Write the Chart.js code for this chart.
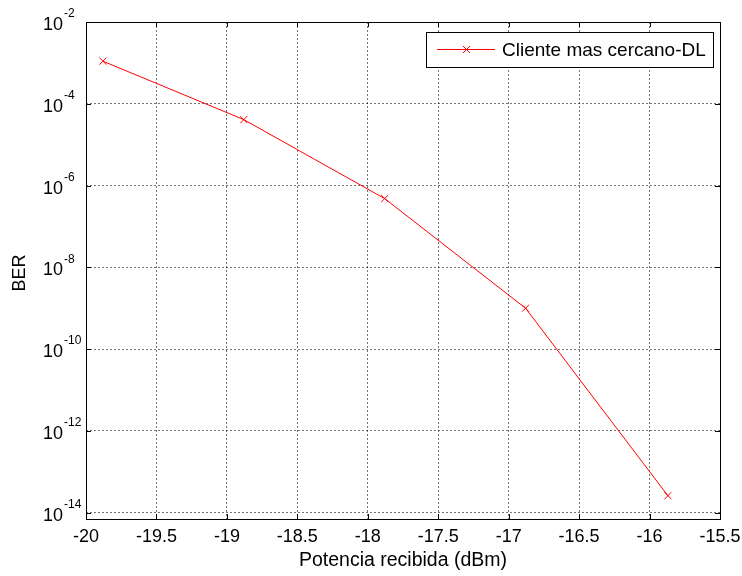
<!DOCTYPE html>
<html>
<head>
<meta charset="utf-8">
<script src="https://cdn.jsdelivr.net/npm/chart.js@4"></script>
<style>
  html, body { margin: 0; padding: 0; background: #fff; }
  canvas { display: block; }
</style>
</head>
<body>
<canvas id="berChart" width="742" height="576"></canvas>
<script>
// received power (dBm) and measured BER
const potencia = [-19.88, -18.88, -17.88, -16.88, -15.87];
const ber = [1.1e-3, 4.1e-5, 4.8e-7, 1.0e-9, 2.6e-14];
const xTicks = [-20, -19.5, -19, -18.5, -18, -17.5, -17, -16.5, -16, -15.5];
const yExponents = [-14, -12, -10, -8, -6, -4, -2];
const serieLabel = "Cliente mas cercano-DL";

const FONT = "Liberation Sans, Arial, sans-serif";
const RED = "#ff0000";

// ===== axes box, inward ticks, labels, legend =====
const matlabAxes = {
  id: "matlabAxes",
  afterDraw(chart) {
    const ctx = chart.ctx;
    const { left, right, top, bottom } = chart.chartArea;
    const xs = chart.scales.x, ys = chart.scales.y;
    ctx.save();
    ctx.setLineDash([]);
    ctx.lineWidth = 1;

    // box
    ctx.strokeStyle = "#000";
    ctx.strokeRect(Math.round(left) + 0.5, Math.round(top) + 0.5,
      Math.round(right - left), Math.round(bottom - top));

    // inward ticks on all four sides
    ctx.beginPath();
    xTicks.forEach(v => {
      const px = Math.round(xs.getPixelForValue(v)) + 0.5;
      ctx.moveTo(px, bottom); ctx.lineTo(px, bottom - 5);
      ctx.moveTo(px, top); ctx.lineTo(px, top + 5);
    });
    yExponents.forEach(e => {
      const py = Math.round(ys.getPixelForValue(Math.pow(10, e))) + 0.5;
      ctx.moveTo(left, py); ctx.lineTo(left + 5, py);
      ctx.moveTo(right, py); ctx.lineTo(right - 5, py);
    });
    ctx.stroke();

    // y tick labels 10^n
    ctx.fillStyle = "#000";
    ctx.textBaseline = "middle";
    yExponents.forEach(e => {
      const py = ys.getPixelForValue(Math.pow(10, e));
      ctx.font = "18px " + FONT;
      ctx.textAlign = "right";
      ctx.fillText("10", 63, py + 3);
      ctx.font = "12px " + FONT;
      ctx.textAlign = "left";
      ctx.fillText(String(e), 64, py - 8);
    });

    // axis titles
    ctx.textAlign = "center";
    ctx.textBaseline = "alphabetic";
    ctx.font = "19.5px " + FONT;
    ctx.fillText("Potencia recibida (dBm)", (left + right) / 2, 566);

    ctx.save();
    ctx.translate(20, 273);
    ctx.rotate(-Math.PI / 2);
    ctx.textBaseline = "middle";
    ctx.font = "18px " + FONT;
    ctx.fillText("BER", 0, 0);
    ctx.restore();

    // legend box
    const lx = 426, ly = 32, lw = 287, lh = 35;
    const my = 49;
    ctx.fillStyle = "#fff";
    ctx.fillRect(lx, ly, lw, lh);
    ctx.strokeStyle = "#000";
    ctx.strokeRect(lx + 0.5, ly + 0.5, lw, lh);

    // legend sample: line and x marker in the series colour
    const ds = chart.data.datasets[0];
    ctx.fillStyle = ds.borderColor;
    ctx.fillRect(437, my, 58, 1);
    ctx.strokeStyle = ds.borderColor;
    ctx.beginPath();
    ctx.moveTo(463, my - 3); ctx.lineTo(470, my + 4);
    ctx.moveTo(463, my + 4); ctx.lineTo(470, my - 3);
    ctx.stroke();

    ctx.fillStyle = "#000";
    ctx.font = "19px " + FONT;
    ctx.textAlign = "left";
    ctx.textBaseline = "middle";
    ctx.fillText(ds.label, 502, my + 2);

    ctx.restore();
  }
};

new Chart(document.getElementById("berChart"), {
  type: "line",
  data: {
    datasets: [{
      label: serieLabel,
      data: potencia.map((p, i) => ({ x: p, y: ber[i] })),
      borderColor: RED,
      borderWidth: 1,
      pointStyle: "crossRot",
      pointRadius: 5,
      pointBorderColor: RED,
      pointBorderWidth: 1,
      tension: 0
    }]
  },
  options: {
    responsive: false,
    animation: false,
    layout: { padding: { top: 22, right: 22, left: 0, bottom: 0 } },
    plugins: { legend: { display: false }, tooltip: { enabled: false } },
    scales: {
      x: {
        type: "linear",
        min: -20,
        max: -15.5,
        afterBuildTicks: s => { s.ticks = xTicks.map(v => ({ value: v })); },
        afterFit: s => {
          s.height = 57;
          s.paddingLeft = 0;
          s.paddingRight = 0;
        },
        grid: { color: "rgba(0,0,0,0.55)", drawTicks: false },
        border: { display: false, dash: [2, 2] },
        ticks: {
          padding: 7,
          color: "#000",
          font: { family: FONT, size: 18 },
          maxRotation: 0,
          autoSkip: false,
          callback: v => String(v)
        }
      },
      y: {
        type: "logarithmic",
        min: 7e-15,
        max: 1e-2,
        afterBuildTicks: s => { s.ticks = yExponents.map(e => ({ value: Math.pow(10, e) })); },
        afterFit: s => { s.width = 86; },
        grid: { color: "rgba(0,0,0,0.55)", drawTicks: false },
        border: { display: false, dash: [2, 2] },
        ticks: { display: false }
      }
    }
  },
  plugins: [matlabAxes]
});
</script>
</body>
</html>
